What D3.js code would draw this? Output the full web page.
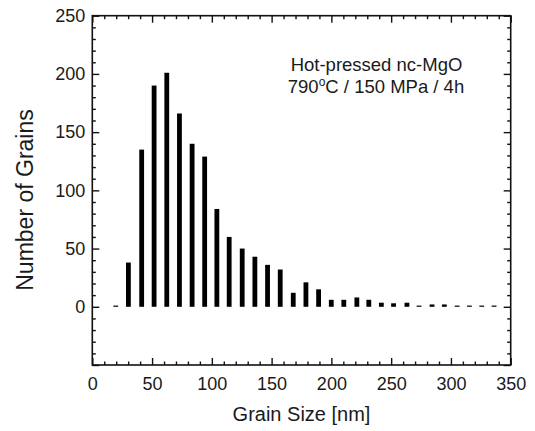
<!DOCTYPE html>
<html>
<head>
<meta charset="utf-8">
<script src="https://cdn.jsdelivr.net/npm/d3@7"></script>
<style>
  html, body { margin: 0; padding: 0; background: #fff; }
  svg { display: block; font-family: 'Liberation Sans', Arial, Helvetica, sans-serif; }
  .axis text { fill: #1a1a1a; }
</style>
</head>
<body>
<div id="chart"></div>
<script>
// bin centres (nm)
const binCenters = [19.6, 30.2, 41.3, 51.7, 62.3, 72.9, 83.5, 94.0, 104.2, 114.5,
  125.4, 136.0, 146.6, 157.2, 168.1, 178.7, 189.3, 199.9, 210.4, 221.3,
  231.3, 241.8, 252.0, 263.2, 273.3, 284.2, 294.5, 305.2, 315.5, 325.8, 336.1]
const grainCounts = [0, 38, 135, 190, 201, 166, 140, 129, 84, 60,
  50, 43, 36, 32, 12, 21, 15, 6, 6, 8,
  6, 3.5, 3, 3.5, 0, 2, 2, 0, 0, 0, 0]
const xTicks = [0, 50, 100, 150, 200, 250, 300, 350]
const yTicks = [-50, 0, 50, 100, 150, 200, 250]
const noteLines = ['Hot-pressed nc-MgO', '790', 'C / 150 MPa / 4h']

const width = 535
const height = 431
const margin = { top: 15.7, right: 24.3, bottom: 66, left: 92.3 }

const svg = d3
  .select('#chart')
  .append('svg')
  .attr('width', width)
  .attr('height', height)

const x = d3
  .scaleLinear()
  .domain([0, 350])
  .range([margin.left, width - margin.right])

const y = d3
  .scaleLinear()
  .domain([-50, 250])
  .range([height - margin.bottom, margin.top])

const xMinor = d3.range(0, 351, 10).filter(d => d % 50 !== 0)
const yMinor = d3.range(-50, 251, 10).filter(d => d % 50 !== 0)

function styleAxis(g) {
  g.select('.domain').remove()
  g.selectAll('line').attr('stroke', '#111').attr('stroke-width', 1.4)
  g.attr('class', 'axis')
}

// bottom
svg.append('g')
  .attr('transform', `translate(0, ${y(-50)})`)
  .call(d3.axisBottom(x).tickValues(xTicks).tickSize(-7).tickPadding(12))
  .call(styleAxis)
  .selectAll('text').attr('font-size', 18)
svg.append('g')
  .attr('transform', `translate(0, ${y(-50)})`)
  .call(d3.axisBottom(x).tickValues(xMinor).tickSize(-3.5).tickFormat(''))
  .call(styleAxis)
// top
svg.append('g')
  .attr('transform', `translate(0, ${y(250)})`)
  .call(d3.axisTop(x).tickValues(xTicks).tickSize(-7).tickFormat(''))
  .call(styleAxis)
svg.append('g')
  .attr('transform', `translate(0, ${y(250)})`)
  .call(d3.axisTop(x).tickValues(xMinor).tickSize(-3.5).tickFormat(''))
  .call(styleAxis)
// left
svg.append('g')
  .attr('transform', `translate(${x(0)}, 0)`)
  .call(d3.axisLeft(y).tickValues(yTicks).tickSize(-7).tickPadding(7)
    .tickFormat(d => (d < 0 ? '' : d)))
  .call(styleAxis)
  .selectAll('text').attr('font-size', 18)
svg.append('g')
  .attr('transform', `translate(${x(0)}, 0)`)
  .call(d3.axisLeft(y).tickValues(yMinor).tickSize(-3.5).tickFormat(''))
  .call(styleAxis)
// right
svg.append('g')
  .attr('transform', `translate(${x(350)}, 0)`)
  .call(d3.axisRight(y).tickValues(yTicks).tickSize(-7).tickFormat(''))
  .call(styleAxis)
svg.append('g')
  .attr('transform', `translate(${x(350)}, 0)`)
  .call(d3.axisRight(y).tickValues(yMinor).tickSize(-3.5).tickFormat(''))
  .call(styleAxis)

// frame
svg.append('rect')
  .attr('x', x(0))
  .attr('y', y(250))
  .attr('width', x(350) - x(0))
  .attr('height', y(-50) - y(250))
  .attr('fill', 'none')
  .attr('stroke', '#111')
  .attr('stroke-width', 1.6)

// bars
const barW = 4.8
svg.append('g')
  .attr('fill', '#000')
  .selectAll('rect')
  .data(binCenters.map((c, i) => ({ c, v: grainCounts[i] })))
  .join('rect')
  .attr('x', d => x(d.c) - barW / 2)
  .attr('width', barW)
  .attr('y', d => Math.min(y(d.v), y(0) - 1.2))
  .attr('height', d => Math.max(y(0) - y(d.v), 1.2))

// axis titles
svg.append('text')
  .attr('x', (x(0) + x(350)) / 2)
  .attr('y', 421)
  .attr('text-anchor', 'middle')
  .attr('font-size', 20)
  .attr('fill', '#1a1a1a')
  .text('Grain Size [nm]')

svg.append('text')
  .attr('transform', `translate(33, 200) rotate(-90)`)
  .attr('text-anchor', 'middle')
  .attr('font-size', 23)
  .attr('fill', '#1a1a1a')
  .text('Number of Grains')

// annotation
const note = svg.append('g').attr('fill', '#1a1a1a').attr('font-size', 18.5)
note.append('text')
  .attr('x', 376.5)
  .attr('y', 70.7)
  .attr('text-anchor', 'middle')
  .text(noteLines[0])
const line2 = note.append('text')
  .attr('x', 376)
  .attr('y', 93.3)
  .attr('text-anchor', 'middle')
line2.append('tspan').text(noteLines[1])
line2.append('tspan').attr('font-size', 12).attr('dy', -7).text('o')
line2.append('tspan').attr('dy', 7).text(noteLines[2])
</script>
</body>
</html>
